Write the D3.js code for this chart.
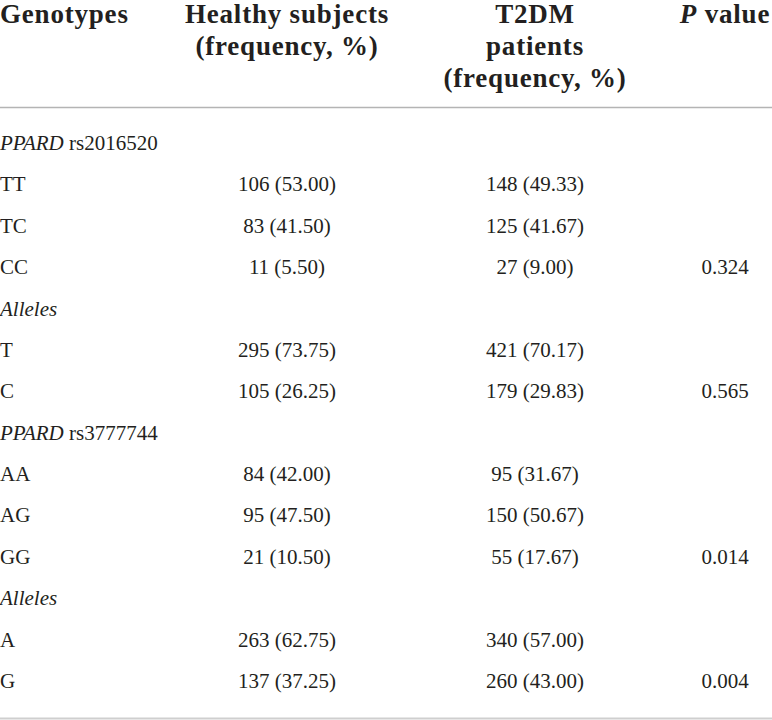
<!DOCTYPE html>
<html>
<head>
<meta charset="utf-8">
<script src="https://cdn.jsdelivr.net/npm/d3@7"></script>
<style>
  html, body { margin: 0; padding: 0; background: #fff; }
  svg { display: block; }
  text { font-family: "Liberation Serif", "Times New Roman", serif; fill: #231f20; }
</style>
</head>
<body>
<div id="table"></div>
<script>
// table content
var headers = [
    ["Genotypes"],
    ["Healthy subjects", "(frequency, %)"],
    ["T2DM", "patients", "(frequency, %)"],
    ["P value"]
];

var rowLabels = ["PPARD rs2016520", "TT", "TC", "CC", "Alleles", "T", "C",
                 "PPARD rs3777744", "AA", "AG", "GG", "Alleles", "A", "G"];

var healthy = ["", "106 (53.00)", "83 (41.50)", "11 (5.50)", "", "295 (73.75)", "105 (26.25)",
               "", "84 (42.00)", "95 (47.50)", "21 (10.50)", "", "263 (62.75)", "137 (37.25)"];

var t2dm = ["", "148 (49.33)", "125 (41.67)", "27 (9.00)", "", "421 (70.17)", "179 (29.83)",
            "", "95 (31.67)", "150 (50.67)", "55 (17.67)", "", "340 (57.00)", "260 (43.00)"];

var pValues = ["", "", "", "0.324", "", "", "0.565",
               "", "", "", "0.014", "", "", "0.004"];

var width = 772, height = 720;

var svg = d3.select("#table")
    .append("svg")
    .attr("width", width)
    .attr("height", height);

// column centres (first column is left aligned)
var colX = d3.scaleOrdinal()
    .domain([0, 1, 2, 3])
    .range([0, 287, 535, 725]);

// row baselines
var rowY = d3.scalePoint()
    .domain(d3.range(rowLabels.length))
    .range([150, 688]);

// header
var head = svg.append("g").attr("class", "header");
headers.forEach(function (lines, i) {
    var t = head.append("text")
        .attr("x", colX(i))
        .attr("text-anchor", i === 0 ? "start" : "middle")
        .attr("font-weight", "bold")
        .attr("font-size", "27px")
        .attr("letter-spacing", "0.8px");
    lines.forEach(function (line, j) {
        var ts = t.append("tspan")
            .attr("x", colX(i))
            .attr("y", 23 + j * 32);
        if (line === "P value") {
            ts.append("tspan").attr("font-style", "italic").text("P");
            ts.append("tspan").text(" value");
        } else {
            ts.text(line);
        }
    });
});

svg.append("line")
    .attr("x1", 0).attr("x2", width)
    .attr("y1", 107.5).attr("y2", 107.5)
    .attr("stroke", "#b4b4b4")
    .attr("stroke-width", 1.5);

// body rows
var rows = svg.selectAll("g.row")
    .data(rowLabels)
    .enter()
    .append("g")
    .attr("class", "row")
    .attr("transform", (d, i) => `translate(0, ${rowY(i)})`)
    .attr("font-size", "21px");

rows.each(function (label, i) {
    var g = d3.select(this);
    var t = g.append("text").attr("x", colX(0));
    if (label.indexOf("PPARD") === 0) {
        t.append("tspan").attr("font-style", "italic").text("PPARD");
        t.append("tspan").text(label.slice(5));
    } else if (label === "Alleles") {
        t.attr("font-style", "italic").text(label);
    } else {
        t.text(label);
    }

    [healthy[i], t2dm[i], pValues[i]].forEach(function (v, k) {
        if (!v) return;
        g.append("text")
            .attr("x", colX(k + 1))
            .attr("text-anchor", "middle")
            .text(v);
    });
});

svg.append("line")
    .attr("x1", 0).attr("x2", width)
    .attr("y1", 718.5).attr("y2", 718.5)
    .attr("stroke", "#cfcfcf")
    .attr("stroke-width", 2);
</script>
</body>
</html>
